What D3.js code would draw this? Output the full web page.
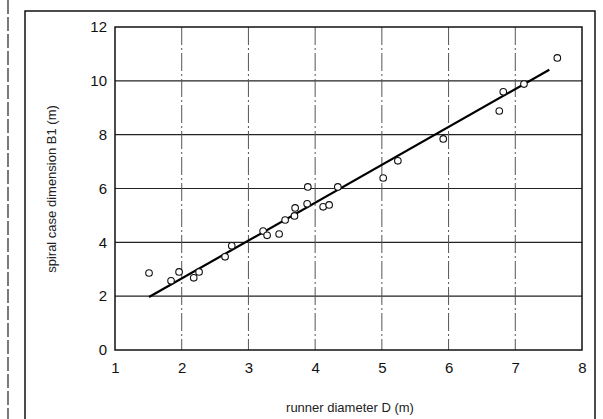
<!DOCTYPE html>
<html>
<head>
<meta charset="UTF-8">
<title>Spiral case dimension vs runner diameter</title>
<style>
  body { margin: 0; background: #fff; }
  .tick-label { font-family: "Liberation Sans", Arial, sans-serif; font-size: 15px; fill: #111; }
  .axis-label { font-family: "Liberation Sans", Arial, sans-serif; font-size: 13px; fill: #222; }
</style>
<script src="https://d3js.org/d3.v7.min.js"></script>
</head>
<body>
<svg width="603" height="419"></svg>
<script>
// runner diameter D (m) for each measured turbine
var diameterD = [1.51, 1.84, 1.96, 2.18, 2.26, 2.65, 2.75, 3.22, 3.28, 3.46, 3.55, 3.69, 3.70,
                 3.88, 3.89, 4.12, 4.21, 4.34, 5.02, 5.24, 5.92, 6.76, 6.82, 7.13, 7.63];
// spiral case dimension B1 (m)
var dimensionB1 = [2.86, 2.57, 2.90, 2.68, 2.90, 3.46, 3.87, 4.42, 4.26, 4.31, 4.83, 4.98, 5.28,
                   5.43, 6.06, 5.32, 5.39, 6.06, 6.39, 7.03, 7.84, 8.88, 9.59, 9.88, 10.85];
// regression line end points
var fitD = [1.51, 7.51];
var fitB1 = [1.97, 10.41];

var xTicks = [1, 2, 3, 4, 5, 6, 7, 8];
var yTicks = [0, 2, 4, 6, 8, 10, 12];

var svg = d3.select("svg");
var plot = {left: 115, right: 582, top: 27, bottom: 350};

var x = d3.scaleLinear().domain([1, 8]).range([plot.left, plot.right]);
var y = d3.scaleLinear().domain([0, 12]).range([plot.bottom, plot.top]);

// outer frame of the scanned figure
svg.append("rect")
    .attr("x", 25).attr("y", 11)
    .attr("width", 570).attr("height", 420)
    .attr("fill", "none").attr("stroke", "#111").attr("stroke-width", 1.5);
svg.append("line")
    .attr("x1", 8).attr("x2", 8).attr("y1", 0).attr("y2", 419)
    .attr("stroke", "#222").attr("stroke-width", 1.2)
    .attr("stroke-dasharray", "14,3");

// grid
svg.append("g").selectAll("line")
    .data(yTicks.slice(1, -1))
    .join("line")
    .attr("x1", plot.left).attr("x2", plot.right)
    .attr("y1", d => y(d)).attr("y2", d => y(d))
    .attr("stroke", "#222").attr("stroke-width", 1.2);
svg.append("g").selectAll("line")
    .data(xTicks.slice(1, -1))
    .join("line")
    .attr("x1", d => x(d)).attr("x2", d => x(d))
    .attr("y1", plot.top).attr("y2", plot.bottom)
    .attr("stroke", "#555").attr("stroke-width", 1)
    .attr("stroke-dasharray", "18,3,2,3");

// plot border
svg.append("rect")
    .attr("x", plot.left).attr("y", plot.top)
    .attr("width", plot.right - plot.left).attr("height", plot.bottom - plot.top)
    .attr("fill", "none").attr("stroke", "#111").attr("stroke-width", 1.5);

// axes (labels only, the grid does the rest)
var xAxis = svg.append("g")
    .attr("transform", `translate(0,${plot.bottom})`)
    .call(d3.axisBottom(x).tickValues(xTicks).tickFormat(d3.format("d")).tickSize(0).tickPadding(12));
var yAxis = svg.append("g")
    .attr("transform", `translate(${plot.left},0)`)
    .call(d3.axisLeft(y).tickValues(yTicks).tickFormat(d3.format("d")).tickSize(0).tickPadding(8));
[xAxis, yAxis].forEach(function(a) {
    a.select(".domain").remove();
    a.attr("font-size", null).attr("font-family", null);
    a.selectAll("text").attr("class", "tick-label");
});

// fitted line
svg.append("line")
    .attr("x1", x(fitD[0])).attr("y1", y(fitB1[0]))
    .attr("x2", x(fitD[1])).attr("y2", y(fitB1[1]))
    .attr("stroke", "#000").attr("stroke-width", 2.2);

// data points
svg.append("g").selectAll("circle")
    .data(diameterD)
    .join("circle")
    .attr("cx", d => x(d))
    .attr("cy", (d, i) => y(dimensionB1[i]))
    .attr("r", 3.3)
    .attr("fill", "#fff").attr("stroke", "#111").attr("stroke-width", 1.1);

// axis titles
svg.append("text")
    .attr("class", "axis-label")
    .attr("x", 350).attr("y", 412)
    .attr("text-anchor", "middle")
    .text("runner diameter D (m)");
svg.append("text")
    .attr("class", "axis-label")
    .attr("transform", "translate(56,189) rotate(-90)")
    .attr("text-anchor", "middle")
    .text("spiral case dimension B1 (m)");
</script>
</body>
</html>
